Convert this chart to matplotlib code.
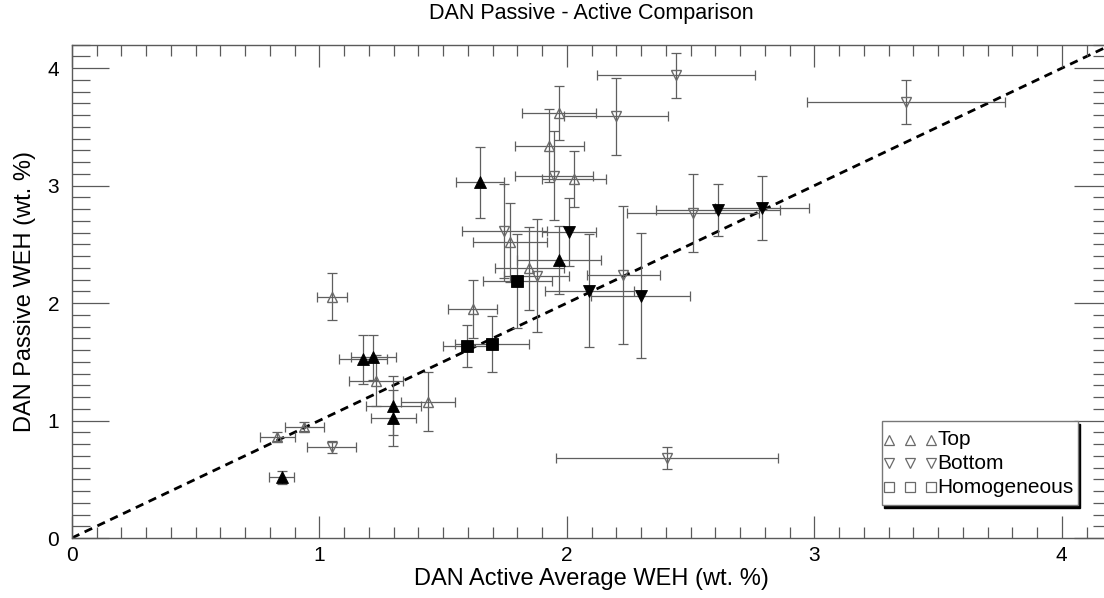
import matplotlib
matplotlib.use("Agg")
import matplotlib.pyplot as plt
from matplotlib.ticker import MultipleLocator
from matplotlib.patches import Rectangle
import matplotlib.transforms as mtransforms

plt.rcParams['font.family'] = ['Liberation Sans', 'DejaVu Sans']

# ---- data (DAN Active average WEH vs DAN Passive WEH, wt. %) ----
# Top (open up-triangles)
top_open_x = [1.968, 1.929, 2.029, 1.771, 1.849, 1.050, 1.620, 1.229, 1.440, 0.940, 0.830]
top_open_y = [3.617, 3.339, 3.058, 2.516, 2.297, 2.055, 1.948, 1.340, 1.161, 0.948, 0.863]
top_open_xerr = [0.148, 0.140, 0.130, 0.150, 0.140, 0.060, 0.098, 0.110, 0.110, 0.080, 0.070]
top_open_yerr = [0.230, 0.310, 0.240, 0.340, 0.355, 0.200, 0.245, 0.220, 0.250, 0.040, 0.040]

# Top (filled up-triangles)
top_fill_x = [1.649, 1.968, 1.178, 1.218, 1.299, 1.299, 0.848]
top_fill_y = [3.027, 2.368, 1.522, 1.539, 1.127, 1.020, 0.517]
top_fill_xerr = [0.098, 0.170, 0.097, 0.090, 0.110, 0.090, 0.050]
top_fill_yerr = [0.300, 0.290, 0.210, 0.190, 0.250, 0.240, 0.055]

# Bottom (open down-triangles)
bot_open_x = [2.440, 3.369, 2.198, 1.948, 1.748, 1.878, 2.228, 2.509, 1.050, 2.405]
bot_open_y = [3.940, 3.711, 3.589, 3.086, 2.615, 2.232, 2.240, 2.766, 0.773, 0.681]
bot_open_xerr = [0.320, 0.400, 0.210, 0.158, 0.170, 0.130, 0.148, 0.267, 0.100, 0.450]
bot_open_yerr = [0.190, 0.185, 0.330, 0.380, 0.400, 0.480, 0.590, 0.330, 0.050, 0.090]

# Bottom (filled down-triangles)
bot_fill_x = [2.008, 2.090, 2.298, 2.612, 2.790]
bot_fill_y = [2.609, 2.107, 2.064, 2.794, 2.810]
bot_fill_xerr = [0.108, 0.180, 0.200, 0.250, 0.190]
bot_fill_yerr = [0.290, 0.480, 0.530, 0.220, 0.270]

# Homogeneous (filled squares)
hom_x = [1.800, 1.598, 1.699]
hom_y = [2.192, 1.632, 1.650]
hom_xerr = [0.140, 0.100, 0.150]
hom_yerr = [0.400, 0.180, 0.240]

tick_vals = [0, 1, 2, 3, 4]
legend_labels = ['Top', 'Bottom', 'Homogeneous']

# ---- figure ----
W, H = 1104, 598
fig = plt.figure(figsize=(W / 100, H / 100), dpi=100)
ax = fig.add_axes([71.8 / W, 60 / H, 1039.5 / W, 493.3 / H])

axis_col = '#5a5a5a'
err_col = '#5f5f5f'
open_col = '#6a6a6a'

ax.axline((0, 0), slope=1, color='black', lw=2.0, linestyle=(0, (3.0, 2.1)), zorder=1)

def series(x, y, xe, ye, marker, filled, ms):
    ax.errorbar(x, y, xerr=xe, yerr=ye, fmt='none', ecolor=err_col,
                elinewidth=0.9, capsize=3.5, capthick=0.9, zorder=2)
    if filled:
        ax.plot(x, y, linestyle='none', marker=marker, ms=ms, mfc='black',
                mec='black', mew=0.6, zorder=3)
    else:
        ax.plot(x, y, linestyle='none', marker=marker, ms=ms, mfc='none',
                mec=open_col, mew=1.0, zorder=3)

series(top_open_x, top_open_y, top_open_xerr, top_open_yerr, '^', False, 7.5)
series(bot_open_x, bot_open_y, bot_open_xerr, bot_open_yerr, 'v', False, 7.5)
series(top_fill_x, top_fill_y, top_fill_xerr, top_fill_yerr, '^', True, 8.5)
series(bot_fill_x, bot_fill_y, bot_fill_xerr, bot_fill_yerr, 'v', True, 8.5)
series(hom_x, hom_y, hom_xerr, hom_yerr, 's', True, 8.5)

ax.set_xlim(0, 4.2)
ax.set_ylim(0, 4.2)
ax.set_xticks(tick_vals)
ax.set_yticks(tick_vals)
ax.set_xticklabels([str(v) for v in tick_vals])
ax.set_yticklabels([str(v) for v in tick_vals])
ax.xaxis.set_minor_locator(MultipleLocator(0.1))
ax.yaxis.set_minor_locator(MultipleLocator(0.1))
ax.tick_params(axis='both', which='both', direction='in', top=True, right=True,
               color=axis_col, width=0.9, labelsize=15)
ax.tick_params(axis='x', which='major', length=15.8, pad=6)
ax.tick_params(axis='x', which='minor', length=7.9)
ax.tick_params(axis='y', which='major', length=26.6, pad=9)
ax.tick_params(axis='y', which='minor', length=13)
for s in ax.spines.values():
    s.set_color(axis_col)
    s.set_linewidth(1.0)

ax.set_xlabel('DAN Active Average WEH (wt. %)', fontsize=17, labelpad=2)
ax.set_ylabel('DAN Passive WEH (wt. %)', fontsize=17, labelpad=8)
ax.set_title('DAN Passive - Active Comparison', fontsize=15.5, pad=18.5)

# ---- legend box (IDL style) ----
bx0, bx1, by0, by1 = 0.779, 0.968, 0.067, 0.237
shadow_off = mtransforms.offset_copy(ax.transAxes, fig=fig, x=2, y=-3, units='dots')
ax.add_patch(Rectangle((bx0, by0), bx1 - bx0, by1 - by0, transform=shadow_off,
                       facecolor='black', edgecolor='black', zorder=5, clip_on=False))
ax.add_patch(Rectangle((bx0, by0), bx1 - bx0, by1 - by0, transform=ax.transAxes,
                       facecolor='white', edgecolor='#777777', lw=1.0, zorder=6,
                       clip_on=False))
row_y = [0.199, 0.152, 0.103]
row_m = ['^', 'v', 's']
mark_x = [0.786, 0.806, 0.827]
for yy, mk, lab in zip(row_y, row_m, legend_labels):
    ax.plot(mark_x, [yy] * 3, transform=ax.transAxes, linestyle='none', marker=mk,
            ms=7, mfc='none', mec=open_col, mew=0.9, zorder=7, clip_on=False)
    ax.text(0.833, yy, lab, transform=ax.transAxes, fontsize=15, va='center',
            ha='left', zorder=7)

fig.savefig('out.png', dpi=100)
